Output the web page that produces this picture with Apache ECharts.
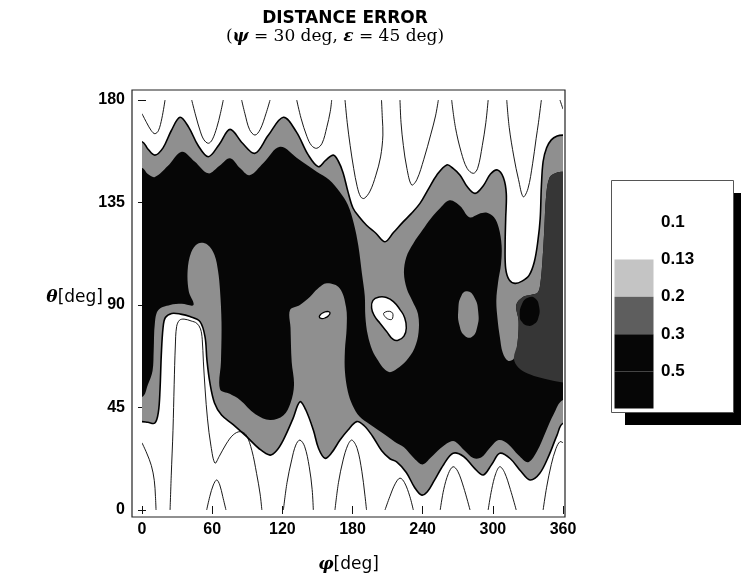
<!DOCTYPE html>
<html><head><meta charset="utf-8">
<script src="https://cdn.jsdelivr.net/npm/echarts@6.0.0/dist/echarts.min.js"></script>
<style>html,body{margin:0;padding:0;background:#fff}#c{width:741px;height:580px}</style>
</head><body><div id="c"></div>
<script>
// ---- axis ticks / legend levels ----
const phiTicks = [0, 60, 120, 180, 240, 300, 360];
const thetaTicks = [0, 45, 90, 135, 180];
const levels = ['0.1', '0.13', '0.2', '0.3', '0.5'];

// ---- contour regions, as [phi, theta] in degrees ----
// region where the error is >= 0.13 (bounded by the 0.13 contour)
const band013 = [
[-20,161.7],[0,161.7],[5,158.5],[11,155.8],[18,159],[25,166.5],[32.5,172.4],[40,168],[48,160],[56.7,155.1],[66,160.5],[75.3,167.1],[86,161],[96.6,156.6],[108,164.5],[120.9,172.4],[132,166],[142,156],[150.8,150.7],[157,153.5],[163.6,155.8],[168,153],[172,148],[176,140],[180.4,132.6],[186,128.5],[192,125],[200,121.5],[207.8,117.8],[215,121.8],[223.5,126.6],[230,130],[237.7,134.6],[245,141],[252,147],[260.6,151.5],[266,150],[272,147],[278,142],[284.8,139],[292,142.5],[298,147.5],[304,149.3],[309,146],[311.5,139],[311,128],[310.5,116],[311,106],[314,101],[319,99.5],[325,100.5],[331,103],[335.5,109],[338.5,118],[340.5,128],[341.5,142],[343,153],[346,159],[350,162.5],[355,164.2],[360,164.6],[380,164.6],
[380,38],[360,38],[355,33],[348,24],[340,16],[331.8,13.2],[324,17],[315,22.5],[306,24.9],[299,20],[291.8,15.4],[284,18.5],[275,23.5],[266,24.9],[258,20],[250,13],[244,8],[239,6.6],[233,10],[226,16.5],[218,21],[212,22.5],[205,26],[197,32.5],[190,37],[183.6,38.8],[176,35],[169.3,30.7],[162,25],[156.5,22.7],[151,27],[146.5,35.1],[140,44],[135,47.5],[129,40],[120.8,30.7],[115,26],[109.5,24.1],[100,27],[89.5,32.2],[78,37.5],[68,41.7],[62,47],[58,56],[55.5,66],[53.9,76],[49.6,82.7],[41,84.9],[33,86],[25.4,86.3],[20,84.5],[18,80],[16.5,68],[15.4,52.7],[14,43],[11,38.2],[5,38.5],[0,38.8],[-20,38.8]
];
// region where the error is >= 0.3 (black)
const band03 = [
[-20,150],[0,150.1],[5,147.5],[11,146.2],[22,151],[34,157.3],[45,153],[56.7,147.8],[66,151],[75.3,154.4],[84,150],[92,147],[104,152.5],[118,159.5],[134,154],[149.4,148.5],[160,145],[169,139.7],[176,134],[181,126],[185,116],[188,104],[190.5,94],[191,85],[193,77],[197,70],[202,65.5],[207,62],[212,60.5],[218,62],[226,65.5],[233,71],[236.5,78],[236,86],[231,92],[226.5,97],[224,104],[226,111],[232,117],[240,123],[247,128],[254,132],[263,136],[272,133.5],[280,128.5],[288,130],[295,130.5],[301,128.5],[305,124],[307.5,116],[307,108],[304.5,100],[303,92],[304,84],[306,76],[308.5,69],[313,65.5],[318,66.5],[321,73],[322,83],[320,90],[326,93.6],[333,94.5],[338.4,95.5],[340.5,99],[342.5,110],[344,123],[345.5,137.5],[348.5,146],[354,148],[360,148.5],[380,148.5],
[380,48.3],[360,48.3],[352,42],[345,34],[338,26],[330.3,21],[322,24],[313,29],[305,30.7],[297,27],[290,23],[283.3,22.8],[276,26],[268,30],[263,29.9],[255,27],[247,23],[240,20],[233,22.5],[224,27.5],[216,30],[205,34],[195,37.5],[186,41],[180,46],[176,52],[173.5,61],[173.5,70],[175,80],[174.5,89],[169,97.4],[158,99.5],[150,97],[143.7,93.6],[135,90],[126.6,87.8],[127,80],[128,65],[130,55],[127,47],[120.8,41.5],[109.5,39.5],[97,42],[83.8,48.3],[75,51],[66.7,53],[67.5,65],[68,82],[66.7,96.6],[65,105],[62,112],[56,116.5],[48,117],[42,113],[39,105],[40,96],[44,90],[34,90.5],[24,90],[14,87.8],[11,82],[10,70],[9,61],[5,55],[0,49.6],[-20,49.6]
];
// 0.2 - 0.3 zone on the right
const band02Right = [[320,90],[322,83],[321,73],[318,66.5],[322,62.5],[332,59.5],[345,57.5],[360,56],[380,56],[380,148.5],[360,148.5],[354,148],[348.5,146],[345.5,137.5],[344,123],[342.5,110],[340.5,99],[338.4,95.5],[333,94.5],[326,93.6]];
const peak05 = [[323,85],[325,90.5],[330,93.2],[336,93],[339.5,89.5],[339,84.5],[335,81.5],[329,81],[325,82.5]];
const oval013 = [[278,96],[284,93.5],[287.5,87],[286.5,80],[282,76],[276,76.5],[271.5,81],[270.5,88],[273,94]];
const islandLow = [[197.5,92],[203,93.5],[209,93.3],[215,91.5],[220.6,88],[224.5,84.5],[226,80],[224,76.3],[219,74.5],[214.5,75],[209,78.5],[203.5,82],[199,85],[196.4,88.5]];
const islandCore = [[207,86.6],[213.4,86.9],[214.3,84.2],[212,83.6],[207.8,84.9]];
const islandSmall = [[151.6,84.8],[153,86],[156,86.9],[159.5,87.1],[160.8,86.5],[159.5,85.3],[156.5,84.3],[153,84.1]];
// 0.1 contour lines
const contour01 = [
[[0,174],[4,170],[8,166.5],[11,165.2],[14,166.5],[17,172],[19.7,180]],
[[42.5,180],[46,173],[50,166],[53,162.5],[56.7,161],[60,162.5],[64,168],[67,174],[69.5,180]],
[[85.2,180],[88,174],[92,167],[96.6,164.6],[101,167],[106,174],[109.5,180]],
[[132.3,180],[136,172],[141,164],[145,160],[149.4,158.8],[154,161],[158,168],[161,175],[162.2,180]],
[[173.6,180],[175.5,170],[178,160],[181,150],[184,142],[187,137.5],[190,136.8],[195,140],[200,147],[204,155],[206,164.6],[205.5,172],[204.8,180]],
[[220.6,180],[221.5,170],[223.5,160],[226.5,150],[230.6,142.7],[235,145],[241,154],[247,165],[251,173],[253.4,180]],
[[264.8,180],[268,168],[273,157],[278,150],[283.3,147.8],[287,150],[291,160],[294,170],[296,180]],
[[311.9,180],[314,168],[318,155],[322,145],[326,137.5],[330,141],[334,152],[337,163],[339,170],[341.5,180]],
[[357.4,180],[360,176]],
[[0,29.5],[4,25],[8,19.5],[10.5,13],[11.5,6],[12,0]],
[[24,0],[25,15],[26.5,35],[27.5,55],[28.5,72],[29.6,80.5],[32,83.3],[36,83.8],[42,83],[46.8,82],[50,79.5],[51.5,75],[52.5,65],[54,52.7],[56,40],[59,28],[62.4,20.6],[66,23.5],[72,29],[78,33],[83.8,34.4],[89,33],[94,26],[98,16],[101,7],[102.5,0]],
[[55.3,0],[58,6],[61,11],[63.9,13.2],[66.5,11],[69,6],[71.8,0]],
[[120.9,0],[124,12],[128,22],[131.5,28.5],[135,30.7],[139,28],[143,19],[145.5,9],[146.5,0]],
[[165,0],[168,12],[172,22],[176,28.5],[179.5,30.7],[184,27],[188,17],[190.5,7],[192,0]],
[[207.8,0],[212,6],[216.5,11.5],[220.6,14],[224.5,12],[229,6],[232,0]],
[[255,0],[258,9],[262,16],[266,19],[270,17],[275,10],[280.5,0]],
[[296,0],[299,9],[302.5,16],[306,19],[310,16.5],[315,9],[320,0]],
[[343,0],[346,10],[350,20],[354,27],[357.4,30],[360,29.5]]
];

const bandFill = '#8f8f8f', darkFill = '#363636', blackFill = '#060606';
const legendFills = ['#c4c4c4', '#5e5e5e', '#060606'];

function shapeSeries(points, style, z, smooth, closed) {
  return {
    type: 'custom', coordinateSystem: 'cartesian2d', xAxisIndex: 0, yAxisIndex: 0,
    clip: true, silent: true, z: z, animation: false,
    data: [[180, 90]],
    renderItem: function (params, api) {
      return {
        type: closed ? 'polygon' : 'polyline',
        shape: { points: points.map(function (p) { return api.coord(p); }), smooth: smooth },
        style: Object.assign({ lineJoin: 'round' }, style)
      };
    }
  };
}

const series = [
  shapeSeries(band013, { fill: bandFill, stroke: null }, 1, 0.35, true),
  shapeSeries(band03, { fill: blackFill, stroke: null }, 2, 0.35, true),
  shapeSeries(band02Right, { fill: darkFill, stroke: null }, 3, 0.35, true),
  shapeSeries(peak05, { fill: blackFill, stroke: null }, 4, 0.5, true),
  shapeSeries(oval013, { fill: bandFill, stroke: null }, 5, 0.5, true),
  shapeSeries(islandLow, { fill: '#fff', stroke: '#000', lineWidth: 1.5 }, 6, 0.5, true),
  shapeSeries(islandCore, { fill: '#fff', stroke: '#000', lineWidth: 0.9 }, 7, 0.5, true),
  shapeSeries(islandSmall, { fill: '#fff', stroke: '#000', lineWidth: 1.3 }, 8, 0.5, true),
  shapeSeries(band013, { fill: null, stroke: '#000', lineWidth: 1.6 }, 9, 0.35, true)
];
contour01.forEach(function (line) {
  series.push(shapeSeries(line, { fill: null, stroke: '#000', lineWidth: 0.9 }, 10, 0.35, false));
});

const tickFont = { fontFamily: 'Liberation Sans', fontWeight: 'bold', fontSize: 16, color: '#000' };
const nameRich = {
  g: { fontFamily: 'DejaVu Serif', fontStyle: 'italic', fontWeight: 'bold', fontSize: 17, color: '#000' },
  d: { fontFamily: 'DejaVu Sans', fontWeight: 'normal', fontSize: 17, color: '#000' }
};
function ticks(values) {
  return { show: true, inside: true, length: 4, customValues: values, lineStyle: { color: '#111', width: 1 } };
}

// legend built from the level list
const legendGraphics = [
  { type: 'rect', shape: { x: 625, y: 193, width: 130, height: 232 }, style: { fill: '#000' }, z: 10 },
  { type: 'rect', shape: { x: 611.5, y: 180.5, width: 122, height: 232 }, style: { fill: '#fff', stroke: '#555', lineWidth: 1 }, z: 11 }
];
const labelY0 = 222, labelStep = 37.4;
levels.forEach(function (lv, i) {
  if (i >= 1) {
    const y1 = labelY0 + labelStep * i;
    const y2 = i < levels.length - 1 ? labelY0 + labelStep * (i + 1) : 408.5;
    legendGraphics.push({ type: 'rect', shape: { x: 614.5, y: y1, width: 39, height: y2 - y1 },
      style: { fill: legendFills[Math.min(i - 1, legendFills.length - 1)] }, z: 12 });
  }
  legendGraphics.push({ type: 'text', x: 661, y: labelY0 + labelStep * i, z: 13,
    style: { text: lv, fontFamily: 'Liberation Sans', fontWeight: 'bold', fontSize: 17, fill: '#000', verticalAlign: 'middle', textAlign: 'left' } });
});

// frame axes extend a little beyond the data range (as in the original plot box)
const phiFrame = [-8.55, 361.71], thetaFrame = [-3.07, 184.39];

const option = {
  backgroundColor: '#fff',
  animation: false,
  title: [
    { text: 'DISTANCE ERROR', left: 340, top: 5, textAlign: 'center',
      textStyle: { fontFamily: 'DejaVu Sans', fontWeight: 'bold', fontSize: 17, color: '#000' } },
    { text: '{p|(}{g|ψ}{p| = 30 deg, }{g|ε}{p| = 45 deg)}', left: 330, top: 23, textAlign: 'center',
      textStyle: { fontWeight: 'normal', rich: {
        p: { fontFamily: 'DejaVu Serif', fontWeight: 'normal', fontSize: 17, color: '#000' },
        g: { fontFamily: 'DejaVu Serif', fontStyle: 'italic', fontWeight: 'bold', fontSize: 17, color: '#000' } } } }
  ],
  grid: [
    { left: 142, top: 100, width: 421, height: 410, show: false },
    { left: 132, top: 90, width: 433, height: 427, show: true, backgroundColor: 'transparent', borderColor: '#222', borderWidth: 1.2 }
  ],
  xAxis: [
    { type: 'value', gridIndex: 0, min: 0, max: 360, show: false },
    { type: 'value', gridIndex: 1, min: phiFrame[0], max: phiFrame[1], position: 'bottom',
      axisLine: { show: false }, axisTick: ticks(phiTicks), splitLine: { show: false },
      axisLabel: Object.assign({ margin: 5, customValues: phiTicks }, tickFont),
      name: '{g|φ}{d|[deg]}', nameLocation: 'middle', nameGap: 39, nameMoveOverlap: false,
      nameTextStyle: { rich: nameRich } },
    { type: 'value', gridIndex: 1, min: phiFrame[0], max: phiFrame[1], position: 'top',
      axisLine: { show: false }, axisTick: ticks(phiTicks), axisLabel: { show: false }, splitLine: { show: false } }
  ],
  yAxis: [
    { type: 'value', gridIndex: 0, min: 0, max: 180, show: false },
    { type: 'value', gridIndex: 1, min: thetaFrame[0], max: thetaFrame[1], position: 'left',
      axisLine: { show: false }, axisTick: ticks(thetaTicks), splitLine: { show: false },
      axisLabel: Object.assign({ margin: 7, customValues: thetaTicks }, tickFont),
      name: '{g|θ}{d|[deg]}', nameLocation: 'middle', nameRotate: 0, nameGap: 29, nameMoveOverlap: false,
      nameTextStyle: { rich: nameRich, padding: [0, 0, 12, 0] } },
    { type: 'value', gridIndex: 1, min: thetaFrame[0], max: thetaFrame[1], position: 'right',
      axisLine: { show: false }, axisTick: ticks(thetaTicks), axisLabel: { show: false }, splitLine: { show: false } }
  ],
  graphic: legendGraphics,
  series: series
};

const chart = echarts.init(document.getElementById('c'), null, { renderer: 'canvas' });
chart.setOption(option);
</script></body></html>
